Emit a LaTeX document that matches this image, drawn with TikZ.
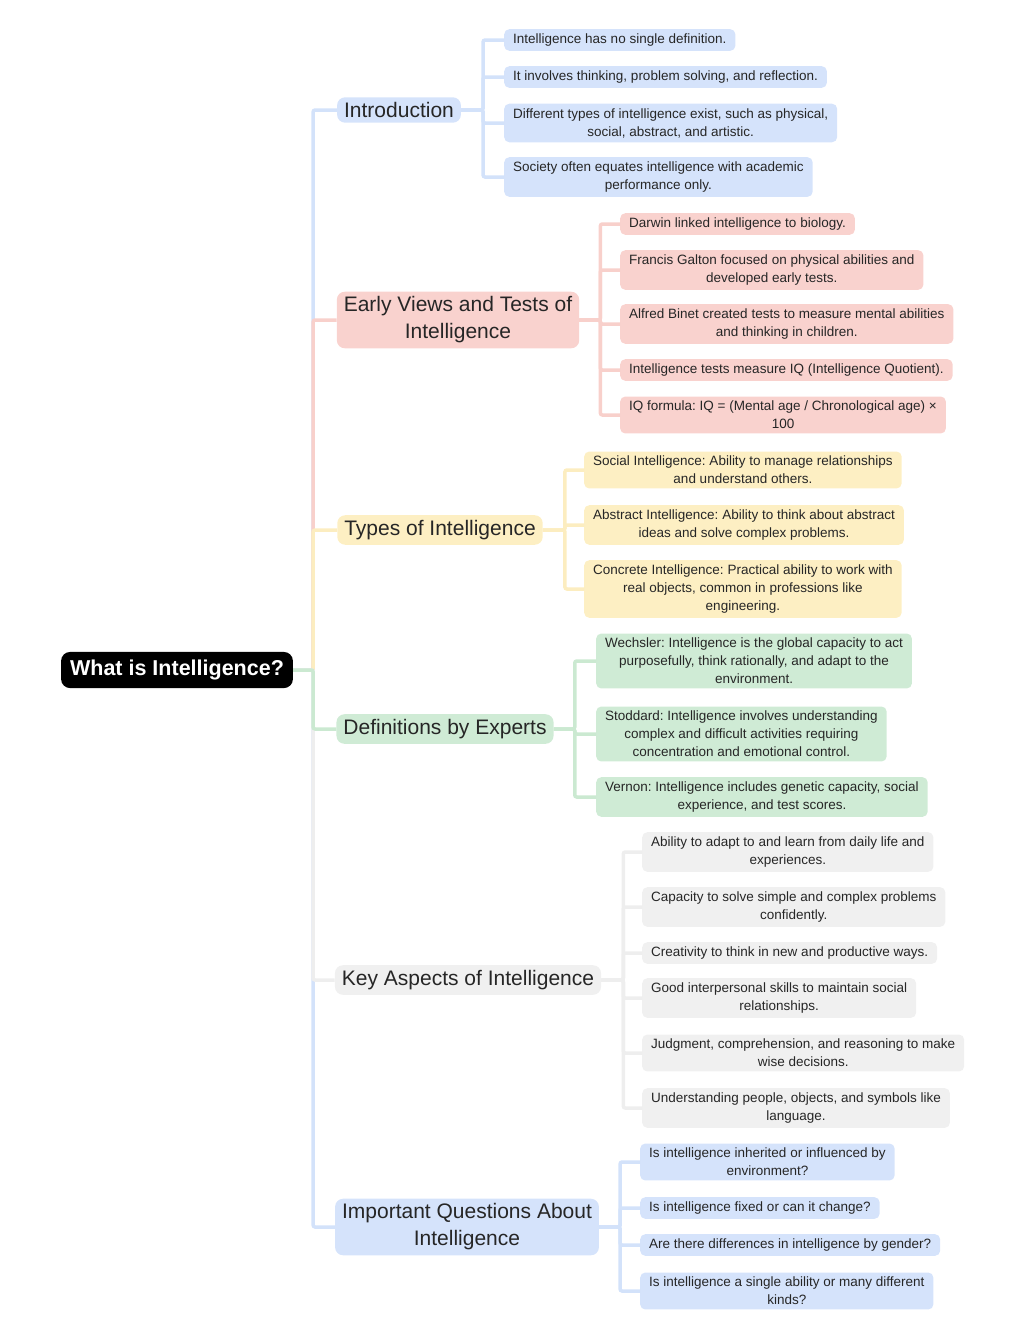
\documentclass[tikz,border=0pt]{standalone}
\usepackage{fontspec}
\setmainfont{Liberation Sans}
\frenchspacing
\definecolor{bF}{HTML}{D5E3FB}\definecolor{bL}{HTML}{D3E2FA}
\definecolor{rF}{HTML}{F9D2CE}\definecolor{rL}{HTML}{F8D0CB}
\definecolor{yF}{HTML}{FDEFC3}\definecolor{yL}{HTML}{FCEDC0}
\definecolor{gF}{HTML}{CFEBD5}\definecolor{gL}{HTML}{CBE9D1}
\definecolor{kF}{HTML}{F0F0F0}\definecolor{kL}{HTML}{EEEEEE}
\begin{document}
\begin{tikzpicture}[x=1pt,y=-1pt,
 leaf/.style={anchor=west,rounded corners=5pt,align=center,inner xsep=9pt,inner ysep=4.5pt,font=\fontsize{13.5}{18}\selectfont,text=black!85},
 cat/.style={rounded corners=8pt,align=center,inner xsep=7pt,inner ysep=5pt,font=\fontsize{21}{27}\selectfont,text=black!85},
 ln/.style={line width=3.5pt,rounded corners=2pt}]
\useasboundingbox (0,0) rectangle (1024,1341);
\node[fill=black,text=white,rounded corners=9pt,font=\fontsize{21.5}{26}\bfseries,inner xsep=9pt,inner ysep=8pt] (root) at (177,670) {What is Intelligence?};
% categories
\node[cat,fill=bF] (c1) at (399,110) {Introduction};
\node[cat,fill=rF] (c2) at (458,320) {Early Views and Tests of\\Intelligence};
\node[cat,fill=yF] (c3) at (440,530) {Types of Intelligence};
\node[cat,fill=gF] (c4) at (445,729) {Definitions by Experts};
\node[cat,fill=kF] (c5) at (468,980) {Key Aspects of Intelligence};
\node[cat,fill=bF] (c6) at (467,1227) {Important Questions About\\Intelligence};
% leaves
\node[leaf,fill=bF] (a1) at (504,40) {Intelligence has no single definition.};
\node[leaf,fill=bF] (a2) at (504,77) {It involves thinking, problem solving, and reflection.};
\node[leaf,fill=bF] (a3) at (504,123) {Different types of intelligence exist, such as physical,\\social, abstract, and artistic.};
\node[leaf,fill=bF] (a4) at (504,177) {Society often equates intelligence with academic\\performance only.};
\node[leaf,fill=rF] (b1) at (620,224) {Darwin linked intelligence to biology.};
\node[leaf,fill=rF] (b2) at (620,270) {Francis Galton focused on physical abilities and\\developed early tests.};
\node[leaf,fill=rF] (b3) at (620,324) {Alfred Binet created tests to measure mental abilities\\and thinking in children.};
\node[leaf,fill=rF] (b4) at (620,370) {Intelligence tests measure IQ (Intelligence Quotient).};
\node[leaf,fill=rF] (b5) at (620,415) {IQ formula: IQ = (Mental age / Chronological age) ×\\100};
\node[leaf,fill=yF] (d1) at (584,470) {Social Intelligence: Ability to manage relationships\\and understand others.};
\node[leaf,fill=yF] (d2) at (584,525) {Abstract Intelligence: Ability to think about abstract\\ideas and solve complex problems.};
\node[leaf,fill=yF] (d3) at (584,589) {Concrete Intelligence: Practical ability to work with\\real objects, common in professions like\\engineering.};
\node[leaf,fill=gF] (e1) at (596,661) {Wechsler: Intelligence is the global capacity to act\\purposefully, think rationally, and adapt to the\\environment.};
\node[leaf,fill=gF] (e2) at (596,734) {Stoddard: Intelligence involves understanding\\complex and difficult activities requiring\\concentration and emotional control.};
\node[leaf,fill=gF] (e3) at (596,797) {Vernon: Intelligence includes genetic capacity, social\\experience, and test scores.};
\node[leaf,fill=kF] (f1) at (642,852) {Ability to adapt to and learn from daily life and\\experiences.};
\node[leaf,fill=kF] (f2) at (642,907) {Capacity to solve simple and complex problems\\confidently.};
\node[leaf,fill=kF] (f3) at (642,953) {Creativity to think in new and productive ways.};
\node[leaf,fill=kF] (f4) at (642,998) {Good interpersonal skills to maintain social\\relationships.};
\node[leaf,fill=kF] (f5) at (642,1053) {Judgment, comprehension, and reasoning to make\\wise decisions.};
\node[leaf,fill=kF] (f6) at (642,1108) {Understanding people, objects, and symbols like\\language.};
\node[leaf,fill=bF] (g1) at (640,1162) {Is intelligence inherited or influenced by\\environment?};
\node[leaf,fill=bF] (g2) at (640,1208) {Is intelligence fixed or can it change?};
\node[leaf,fill=bF] (g3) at (640,1245) {Are there differences in intelligence by gender?};
\node[leaf,fill=bF] (g4) at (640,1291) {Is intelligence a single ability or many different\\kinds?};
% connectors
\foreach \c/\col in {c1/bL,c2/rL,c3/yL,c6/bL,c5/kL,c4/gL}
  \draw[ln,draw=\col] (root.east) -- ++(20,0) |- (\c.west);
\foreach \c in {a1,a2,a3,a4} \draw[ln,draw=bL] (c1.east) -- ++(22,0) |- (\c.west);
\foreach \c in {b1,b2,b3,b4,b5} \draw[ln,draw=rL] (c2.east) -- ++(21,0) |- (\c.west);
\foreach \c in {d1,d2,d3} \draw[ln,draw=yL] (c3.east) -- ++(22,0) |- (\c.west);
\foreach \c in {e1,e2,e3} \draw[ln,draw=gL] (c4.east) -- ++(21,0) |- (\c.west);
\foreach \c in {f1,f2,f3,f4,f5,f6} \draw[ln,draw=kL] (c5.east) -- ++(22,0) |- (\c.west);
\foreach \c in {g1,g2,g3,g4} \draw[ln,draw=bL] (c6.east) -- ++(21,0) |- (\c.west);
\end{tikzpicture}
\end{document}
